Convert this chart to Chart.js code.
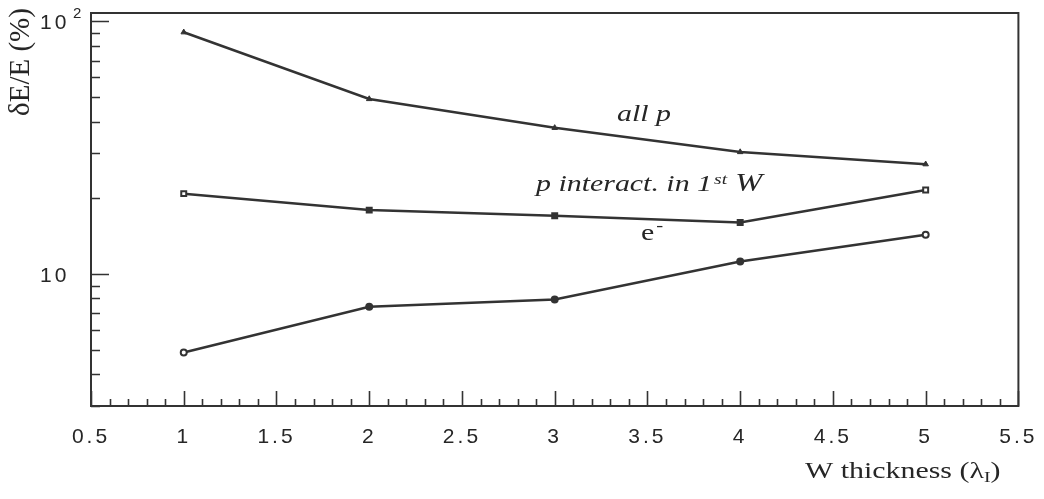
<!DOCTYPE html>
<html>
<head>
<meta charset="utf-8">
<script src="https://cdn.jsdelivr.net/npm/chart.js@4.4.0/dist/chart.umd.min.js"></script>
<style>
  html, body { margin: 0; padding: 0; background: #fff; }
  #wrap { width: 1044px; height: 499px; }
</style>
</head>
<body>
<div id="wrap"><canvas id="c" width="1044" height="499"></canvas></div>
<script>
// W absorber thickness in interaction lengths
const thickness = [1, 2, 3, 4, 5];
// energy resolution dE/E in percent
const allProtons = [90.6, 49.3, 37.9, 30.4, 27.2];
const protonsInteractFirstW = [20.8, 17.9, 17.0, 16.0, 21.5];
const electrons = [4.89, 7.41, 7.93, 11.2, 14.3];

// axis ticks
const xTickValues = [0.5, 1, 1.5, 2, 2.5, 3, 3.5, 4, 4.5, 5, 5.5];
const yMajorTicks = [10, 100];
const yMajorLabels = [['10', ''], ['10', '2']];
const yMinorTicks = [3, 4, 5, 6, 7, 8, 9, 20, 30, 40, 50, 60, 70, 80, 90];

const INK = '#333333';
const TEXT = '#262626';

const toPoints = (ys) => thickness.map((x, i) => ({ x, y: ys[i] }));
const openEnds = ['#ffffff', INK, INK, INK, '#ffffff'];

// inward tick marks, log labels, full frame and curve labels
const decorations = {
  id: 'decorations',
  beforeDraw(chart) {
    chart.ctx.letterSpacing = '3px';
  },
  beforeDatasetsDraw(chart) {
    chart.ctx.letterSpacing = '0px';
  },
  afterDraw(chart) {
    const { ctx, chartArea: a, scales } = chart;
    const xs = scales.x, ys = scales.y;
    ctx.save();
    ctx.letterSpacing = '0px';
    ctx.strokeStyle = INK;
    ctx.lineWidth = 2;
    // frame
    ctx.strokeRect(a.left, a.top, a.right - a.left, a.bottom - a.top);
    // x ticks every 0.1, longer at each 0.5
    ctx.lineWidth = 1.6;
    ctx.beginPath();
    for (let i = 5; i <= 55; i++) {
      const px = Math.round(xs.getPixelForValue(i / 10)) + 0.5;
      const len = (i % 5 === 0) ? 15 : 7;
      ctx.moveTo(px, a.bottom);
      ctx.lineTo(px, a.bottom - len);
    }
    // y ticks
    yMinorTicks.forEach(v => {
      const py = Math.round(ys.getPixelForValue(v)) + 0.5;
      ctx.moveTo(a.left, py); ctx.lineTo(a.left + 9, py);
    });
    yMajorTicks.forEach(v => {
      const py = Math.round(ys.getPixelForValue(v)) + 0.5;
      ctx.moveTo(a.left, py); ctx.lineTo(a.left + 18, py);
    });
    ctx.stroke();

    // decade labels: 10 and 10^2
    ctx.fillStyle = TEXT;
    ctx.textAlign = 'left';
    ctx.textBaseline = 'middle';
    yMajorTicks.forEach((v, i) => {
      const py = ys.getPixelForValue(v) + 2;
      const [base, exp] = yMajorLabels[i];
      ctx.letterSpacing = '3px';
      ctx.font = '21px "Liberation Sans", Arial, sans-serif';
      ctx.fillText(base, 40, py);
      if (exp) {
        ctx.letterSpacing = '0px';
        ctx.font = '15px "Liberation Sans", Arial, sans-serif';
        ctx.fillText(exp, 73, py - 10);
      }
    });
    ctx.letterSpacing = '0px';
    ctx.textBaseline = 'alphabetic';

    const SX = 1.3;
    function stretched(text, x, y, font, sx) {
      ctx.save();
      ctx.font = font;
      ctx.translate(x, y);
      ctx.scale(sx, 1);
      ctx.fillText(text, 0, 0);
      const w = ctx.measureText(text).width * sx;
      ctx.restore();
      return w;
    }
    const serifIt = (s) => 'italic ' + s + 'px "Liberation Serif", "Times New Roman", serif';
    const serif = (s) => s + 'px "Liberation Serif", "Times New Roman", serif';

    // curve labels
    stretched('all p', 617, 121, serifIt(23), SX);
    let x = 536;
    x += stretched('p interact. in 1', x, 191, serifIt(23), SX);
    x += stretched('st', x + 2, 184, serifIt(15), SX) + 2;
    stretched(' W', x, 191, serifIt(25), SX);
    let ex = 641;
    ex += stretched('e', ex, 240, serif(23), SX);
    stretched('-', ex + 2, 231, serif(16), SX);

    // x axis title
    let tx = 805;
    tx += stretched('W thickness (\u03bb', tx, 478, serif(23), SX);
    tx += stretched('I', tx, 482, serif(15), SX);
    stretched(')', tx, 478, serif(23), SX);

    // y axis title
    ctx.save();
    ctx.translate(21, 62);
    ctx.rotate(-Math.PI / 2);
    ctx.font = serif(29);
    ctx.textAlign = 'center';
    ctx.textBaseline = 'middle';
    ctx.fillText('\u03b4E/E (%)', 0, 0);
    ctx.restore();

    ctx.restore();
  }
};

new Chart(document.getElementById('c'), {
  type: 'line',
  data: {
    datasets: [
      {
        label: 'all p',
        data: toPoints(allProtons),
        borderColor: INK, backgroundColor: INK,
        borderWidth: 2.5, pointStyle: 'triangle', pointRadius: 3.2,
        pointBackgroundColor: INK, pointBorderColor: INK, pointBorderWidth: 1
      },
      {
        label: 'p interact. in 1st W',
        data: toPoints(protonsInteractFirstW),
        borderColor: INK, backgroundColor: INK,
        borderWidth: 2.5, pointStyle: 'rect', pointRadius: 3.5,
        pointBackgroundColor: openEnds, pointBorderColor: INK, pointBorderWidth: 2
      },
      {
        label: 'e-',
        data: toPoints(electrons),
        borderColor: INK, backgroundColor: INK,
        borderWidth: 2.5, pointStyle: 'circle', pointRadius: 3,
        pointBackgroundColor: openEnds, pointBorderColor: INK, pointBorderWidth: 2
      }
    ]
  },
  options: {
    responsive: false,
    animation: false,
    devicePixelRatio: 1,
    clip: false,
    layout: { padding: { left: 38, right: 25, top: 13, bottom: 0 } },
    plugins: { legend: { display: false }, tooltip: { enabled: false } },
    scales: {
      x: {
        type: 'linear',
        min: 0.5, max: 5.5,
        afterBuildTicks: (s) => { s.ticks = xTickValues.map(v => ({ value: v })); },
        afterFit: (s) => { s.height = 93; },
        grid: { display: false },
        border: { display: true, color: INK, width: 2 },
        ticks: {
          color: TEXT, padding: 11, maxRotation: 0, autoSkip: false,
          font: { family: '"Liberation Sans", Arial, sans-serif', size: 21 },
          callback: (v) => String(v)
        }
      },
      y: {
        type: 'logarithmic',
        min: 3, max: 108,
        afterBuildTicks: (s) => { s.ticks = yMajorTicks.map(v => ({ value: v })); },
        afterFit: (s) => { s.width = 53; },
        grid: { display: false },
        border: { display: true, color: INK, width: 2 },
        ticks: { display: false }
      }
    }
  },
  plugins: [decorations]
});
</script>
</body>
</html>
